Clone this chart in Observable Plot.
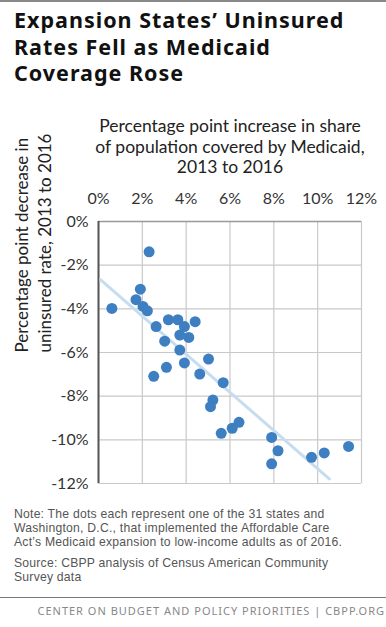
<!DOCTYPE html>
<html>
<head>
<meta charset="utf-8">
<script src="https://cdn.jsdelivr.net/npm/d3@7"></script>
<script src="https://cdn.jsdelivr.net/npm/@observablehq/plot@0.6"></script>
<style>
  html, body { margin: 0; padding: 0; background: #fff; }
  #wrap { position: relative; width: 386px; height: 627px; overflow: hidden; border-top: 2px solid #888; box-sizing: border-box; font-family: Lato, sans-serif; }
  #title { position: absolute; left: 14px; top: 5px; font-family: "Noto Sans", sans-serif; font-size: 21.5px; font-weight: 700; line-height: 26.5px; letter-spacing: 1px; color: #111; }
  #xtitle { position: absolute; left: 90px; width: 280px; top: 114px; text-align: center; font-size: 17.5px; line-height: 20.5px; color: #222; }
  #chart { position: absolute; left: 0; top: 178px; }
  #notes { position: absolute; left: 14px; top: 506px; font-family: "Liberation Sans", sans-serif; font-size: 12.2px; line-height: 13.8px; letter-spacing: 0.22px; color: #555; white-space: nowrap; }
  #notes p { margin: 0 0 8px 0; }
  #sep { position: absolute; left: 0; width: 386px; top: 595px; border-top: 1.5px solid #777; }
  #footer { position: absolute; right: 1px; top: 601px; font-family: "Noto Sans", sans-serif; font-size: 11px; letter-spacing: 1px; color: #888; white-space: nowrap; }
</style>
</head>
<body>
<div id="wrap">
  <div id="title">Expansion States’ Uninsured<br>Rates Fell as Medicaid<br>Coverage Rose</div>
  <div id="xtitle">Percentage point increase in share<br>of population covered by Medicaid,<br>2013 to 2016</div>
  <div id="chart"></div>
  <div id="notes">
    <p>Note: The dots each represent one of the 31 states and<br>Washington, D.C., that implemented the Affordable Care<br>Act’s Medicaid expansion to low-income adults as of 2016.</p>
    <p>Source: CBPP analysis of Census American Community<br>Survey data</p>
  </div>
  <div id="sep"></div>
  <div id="footer">CENTER ON BUDGET AND POLICY PRIORITIES | CBPP.ORG</div>
</div>
<script>
// Percentage point increase in Medicaid coverage, 2013–2016
const medicaidIncrease = [0.61, 2.31, 1.91, 1.71, 2.03, 2.23, 2.63, 3.19, 3.62, 3.92, 4.41, 3.71, 4.12, 3.02, 3.71, 3.10, 3.92, 2.52, 4.62, 5.02, 5.69, 5.22, 5.11, 6.41, 6.10, 5.60, 7.90, 8.19, 7.90, 9.72, 10.30, 11.41];
// Percentage point change in uninsured rate, 2013–2016
const uninsuredChange = [-3.98, -1.39, -3.10, -3.58, -3.89, -4.09, -4.81, -4.50, -4.50, -4.81, -4.59, -5.20, -5.31, -5.48, -5.89, -6.68, -6.48, -7.09, -6.99, -6.30, -7.38, -8.18, -8.48, -9.20, -9.47, -9.70, -9.89, -10.50, -11.10, -10.80, -10.60, -10.30];
// Trend line endpoints
const trendX = [0.1, 10.53];
const trendY = [-2.67, -11.79];
const xTicks = [0, 2, 4, 6, 8, 10, 12];
const yTicks = [0, -2, -4, -6, -8, -10, -12];
const yTitle = "Percentage point decrease in\nuninsured rate, 2013 to 2016";

const points = medicaidIncrease.map((x, i) => ({x, y: uninsuredChange[i]}));
const trend = trendX.map((x, i) => ({x, y: trendY[i]}));
const pct = d => `${d}%`;

const chart = Plot.plot({
  width: 386,
  height: 313,
  marginLeft: 98,
  marginRight: 25,
  marginTop: 41,
  marginBottom: 10,
  x: {domain: [0, 12]},
  y: {domain: [-12, 0]},
  style: {fontFamily: "Lato, sans-serif", fontSize: "16px", color: "#333", background: "transparent", overflow: "visible"},
  marks: [
    Plot.gridX(xTicks, {stroke: "#c9c9c9", strokeOpacity: 1, strokeWidth: 1.2}),
    Plot.gridY(yTicks, {stroke: "#c9c9c9", strokeOpacity: 1, strokeWidth: 1.2}),
    Plot.axisX(xTicks, {anchor: "top", tickSize: 0, tickPadding: 18, tickFormat: pct, label: null, fontSize: 16}),
    Plot.axisY(yTicks, {anchor: "left", tickSize: 0, tickPadding: 10, tickFormat: pct, label: null, fontSize: 16}),
    Plot.ruleY([0], {stroke: "#999", strokeWidth: 1.5}),
    Plot.ruleX([0], {stroke: "#555", strokeWidth: 2}),
    Plot.line(trend, {x: "x", y: "y", stroke: "#c6dcef", strokeWidth: 3}),
    Plot.dot(points, {x: "x", y: "y", r: 5.5, fill: "#3d7fc1", stroke: "none"}),
    Plot.text([yTitle], {frameAnchor: "left", dx: -66, rotate: -90, fontSize: 17, lineHeight: 1.35, fill: "#222"})
  ]
});
document.getElementById("chart").appendChild(chart);
</script>
</body>
</html>
